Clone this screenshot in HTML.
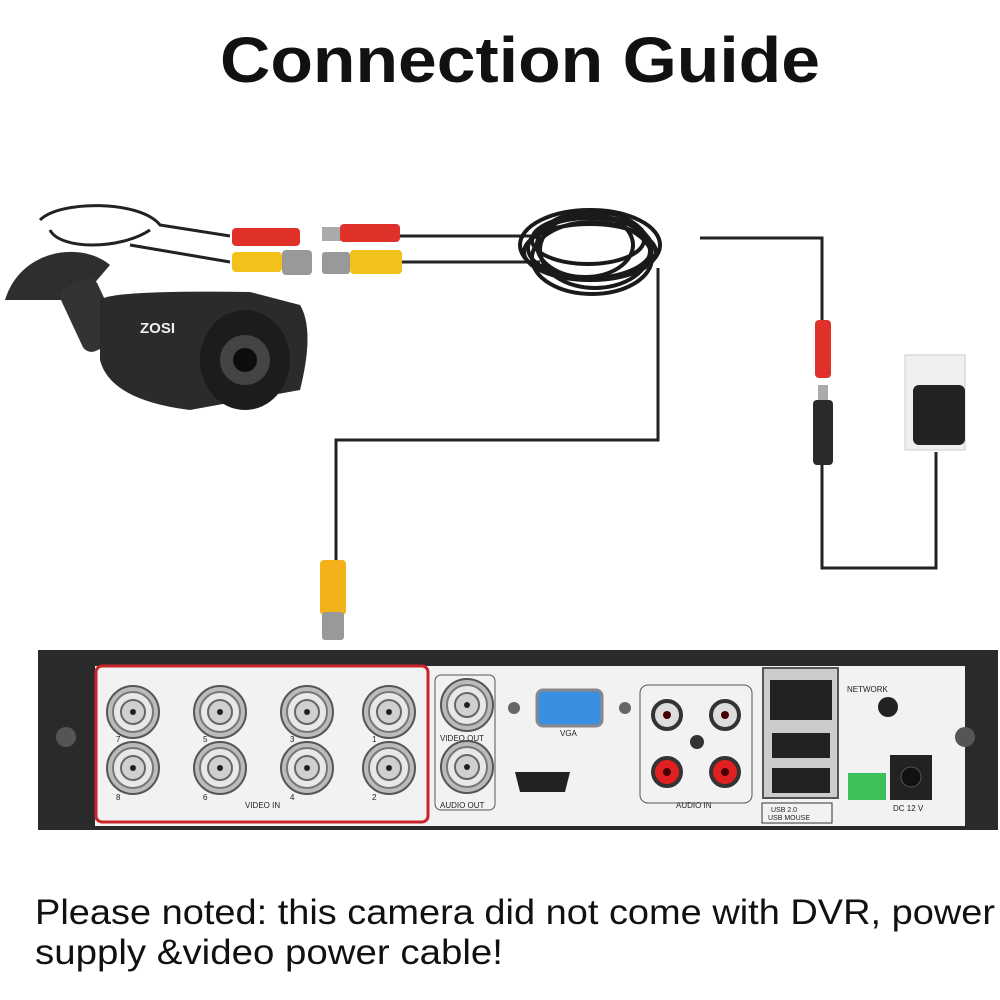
<!DOCTYPE html>
<html><head><style>
html,body{margin:0;padding:0;background:#fff;}
svg{display:block}
</style></head><body>
<svg width="1000" height="1000" viewBox="0 0 1000 1000" xmlns="http://www.w3.org/2000/svg" font-family="Liberation Sans, sans-serif">
<defs>
<g id="bnc">
<circle r="26" fill="#bbb" stroke="#555" stroke-width="2"/>
<circle r="20" fill="#e8e8e8" stroke="#777" stroke-width="2"/>
<circle r="12" fill="#d0d0d0" stroke="#666" stroke-width="2"/>
<circle r="3" fill="#222"/>
</g>
</defs>
<text x="220" y="82" textLength="600" lengthAdjust="spacingAndGlyphs" font-size="64" font-weight="bold" fill="#111">Connection Guide</text>

<!-- wires -->
<g fill="none" stroke="#222" stroke-width="3">
<path d="M658 268 V440 H336 V565"/>
<path d="M700 238 H822 V322"/>
<path d="M822 465 V568 H936 V452"/>
<path d="M400 236 H540 M400 262 H540"/>
<path d="M40 220 C60 200,140 200,160 225 L230 236 M150 230 C120 250,60 250,50 230 M130 245 L230 262"/>
</g>
<!-- coil -->
<g fill="none" stroke="#1a1a1a" stroke-width="4">
<ellipse cx="590" cy="245" rx="70" ry="35"/>
<ellipse cx="590" cy="248" rx="62" ry="30"/>
<ellipse cx="595" cy="250" rx="55" ry="38"/>
<ellipse cx="585" cy="245" rx="48" ry="32"/>
<ellipse cx="590" cy="252" rx="66" ry="28"/>
<ellipse cx="592" cy="258" rx="60" ry="36"/>
<ellipse cx="588" cy="240" rx="56" ry="24"/>
</g>
<!-- camera connectors -->
<rect x="232" y="228" width="68" height="18" rx="4" fill="#e0302a"/>
<rect x="232" y="252" width="50" height="20" rx="4" fill="#f3c21a"/>
<rect x="282" y="250" width="30" height="25" rx="4" fill="#999"/>
<rect x="322" y="227" width="20" height="14" fill="#aaa"/>
<rect x="340" y="224" width="60" height="18" rx="4" fill="#e0302a"/>
<rect x="322" y="252" width="28" height="22" rx="3" fill="#999"/>
<rect x="350" y="250" width="52" height="24" rx="4" fill="#f3c21a"/>
<!-- camera -->
<path d="M5 300 C20 250,80 240,110 265 L80 300 Z" fill="#2e2e2e"/>
<rect x="70" y="280" width="40" height="70" rx="10" fill="#333" transform="rotate(-25 90 315)"/>
<path d="M100 300 Q110 290,250 292 L300 305 Q315 330,300 390 L190 410 Q110 400,100 360 Z" fill="#2b2b2b"/>
<ellipse cx="245" cy="360" rx="45" ry="50" fill="#1c1c1c"/>
<circle cx="245" cy="360" r="25" fill="#444"/>
<circle cx="245" cy="360" r="12" fill="#0d0d0d"/>
<text x="140" y="333" font-size="15" font-weight="bold" fill="#eee">ZOSI</text>
<!-- BNC on floor -->
<rect x="320" y="560" width="26" height="55" rx="4" fill="#f3b21a"/>
<rect x="322" y="612" width="22" height="28" rx="3" fill="#999"/>
<!-- red connector & plug -->
<rect x="815" y="320" width="16" height="58" rx="4" fill="#e0302a"/>
<rect x="818" y="385" width="10" height="18" fill="#aaa"/>
<rect x="813" y="400" width="20" height="65" rx="4" fill="#2a2a2a"/>
<!-- outlet / adapter -->
<rect x="905" y="355" width="60" height="95" fill="#f0f0f0" stroke="#ccc"/>
<rect x="913" y="385" width="52" height="60" rx="6" fill="#222"/>
<!-- DVR -->
<rect x="38" y="650" width="960" height="180" fill="#2a2a2a"/>
<rect x="95" y="666" width="870" height="160" fill="#f2f2f2"/>
<circle cx="66" cy="737" r="10" fill="#555"/><circle cx="965" cy="737" r="10" fill="#555"/>
<rect x="96" y="666" width="332" height="156" rx="6" fill="none" stroke="#c8252a" stroke-width="3"/>
<use href="#bnc" x="133" y="712"/><use href="#bnc" x="220" y="712"/><use href="#bnc" x="307" y="712"/><use href="#bnc" x="389" y="712"/>
<use href="#bnc" x="133" y="768"/><use href="#bnc" x="220" y="768"/><use href="#bnc" x="307" y="768"/><use href="#bnc" x="389" y="768"/>
<g font-size="8" fill="#222">
<text x="116" y="742">7</text><text x="203" y="742">5</text><text x="290" y="742">3</text><text x="372" y="742">1</text>
<text x="116" y="800">8</text><text x="203" y="800">6</text><text x="290" y="800">4</text><text x="372" y="800">2</text>
<text x="245" y="808">VIDEO IN</text>
<text x="440" y="741">VIDEO OUT</text><text x="440" y="808">AUDIO OUT</text>
<text x="560" y="736">VGA</text>
<text x="676" y="808">AUDIO IN</text>
<text x="847" y="692">NETWORK</text>
<text x="893" y="811">DC 12 V</text>
<text x="771" y="812" font-size="7">USB 2.0</text><text x="768" y="820" font-size="7">USB MOUSE</text>
</g>
<rect x="435" y="675" width="60" height="135" rx="6" fill="none" stroke="#555"/>
<use href="#bnc" x="467" y="705"/><use href="#bnc" x="467" y="767"/>
<rect x="537" y="690" width="65" height="36" rx="6" fill="#3a8fe0" stroke="#888" stroke-width="3"/>
<circle cx="514" cy="708" r="6" fill="#666"/><circle cx="625" cy="708" r="6" fill="#666"/>
<path d="M515 772 H570 L565 792 H520 Z" fill="#222"/>
<rect x="640" y="685" width="112" height="118" rx="8" fill="none" stroke="#555"/>
<circle cx="667" cy="715" r="14" fill="#ddd" stroke="#333" stroke-width="4"/><circle cx="667" cy="715" r="4" fill="#400"/>
<circle cx="725" cy="715" r="14" fill="#ddd" stroke="#333" stroke-width="4"/><circle cx="725" cy="715" r="4" fill="#400"/>
<circle cx="667" cy="772" r="14" fill="#e02020" stroke="#333" stroke-width="4"/><circle cx="667" cy="772" r="4" fill="#400"/>
<circle cx="725" cy="772" r="14" fill="#e02020" stroke="#333" stroke-width="4"/><circle cx="725" cy="772" r="4" fill="#400"/>
<circle cx="697" cy="742" r="7" fill="#333"/>
<rect x="763" y="668" width="75" height="130" fill="#ccc" stroke="#555" stroke-width="2"/>
<rect x="770" y="680" width="62" height="40" fill="#222"/>
<rect x="772" y="733" width="58" height="25" fill="#222"/>
<rect x="772" y="768" width="58" height="25" fill="#222"/>
<rect x="762" y="803" width="70" height="20" fill="none" stroke="#333"/>
<circle cx="888" cy="707" r="10" fill="#222"/>
<rect x="848" y="773" width="38" height="27" fill="#3dbf5a"/>
<rect x="890" y="755" width="42" height="45" fill="#222"/>
<circle cx="911" cy="777" r="10" fill="#111" stroke="#555"/>
<text x="35" y="924" font-size="35" textLength="960" lengthAdjust="spacingAndGlyphs" fill="#111">Please noted: this camera did not come with DVR, power</text>
<text x="35" y="964" font-size="35" textLength="468" lengthAdjust="spacingAndGlyphs" fill="#111">supply &amp;video power cable!</text>
</svg>
</body></html>
